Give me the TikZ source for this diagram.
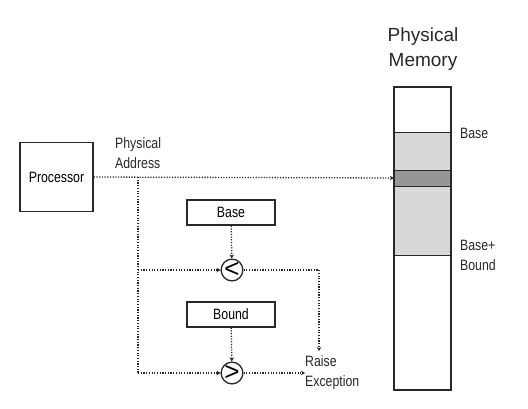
\documentclass[tikz,border=0pt]{standalone}
\usepackage{fontspec}
\setmainfont{Liberation Sans}
\newfontfamily\narrowfont[FakeStretch=0.82]{Liberation Sans}
\usetikzlibrary{arrows.meta, positioning}
\definecolor{regioncolor}{RGB}{216,216,216}
\definecolor{slotcolor}{RGB}{150,150,150}
\definecolor{inkcolor}{RGB}{40,40,40}

\begin{document}
\begin{tikzpicture}[
    x=1pt, y=-1pt,
    regbox/.style={draw=inkcolor, line width=1.3pt, minimum width=88pt, minimum height=25pt, inner sep=0pt, font=\narrowfont\fontsize{15}{17}\selectfont},
    cmpnode/.style={draw=inkcolor, circle, line width=1.3pt, minimum size=20pt, inner sep=0pt, font=\fontsize{26}{26}\selectfont},
    lbl/.style={inner sep=0pt, align=left, font=\narrowfont\fontsize{15}{20}\selectfont, text=inkcolor},
    dotline/.style={draw=inkcolor, line width=1.3pt, dash pattern=on 1.2pt off 1.5pt},
    arrow/.style={dotline, -{Stealth[length=4pt, width=4.5pt]}}
]
    \useasboundingbox (0,0) rectangle (528,408);

    \node[regbox, minimum width=73pt, minimum height=69pt] (proc) at (56.5,177) {Processor};
    \node[lbl, anchor=west] (paddr) at (115,153) {Physical\\Address};

    % physical memory column
    \fill[regioncolor] (394,132) rectangle (451,255);
    \fill[slotcolor] (394,170) rectangle (451,186);
    \draw[inkcolor, line width=0.9pt] (394,132) -- (451,132) (394,170) -- (451,170)
        (394,186) -- (451,186) (394,255) -- (451,255);
    \node[draw=inkcolor, line width=1.3pt, minimum width=57pt, minimum height=303pt, inner sep=0pt] (mem) at (422.5,238.5) {};
    \node[inner sep=0pt, minimum width=57pt, minimum height=16pt] (slot) at (422.5,178) {};
    \node[align=center, font=\fontsize{19}{25}\selectfont, text=inkcolor] (memtitle) at (423,49) {Physical\\Memory};
    \node[lbl, anchor=west] (baselbl) at (460,133) {Base};
    \node[lbl, anchor=west] (boundlbl) at (460,255) {Base+\\Bound};

    \node[regbox] (base) at (231,212.5) {Base};
    \node[cmpnode] (lt) at (232,270) {\raisebox{0.5pt}{<}};
    \node[regbox] (bound) at (231,314.5) {Bound};
    \node[cmpnode] (gt) at (232,373) {\raisebox{0.5pt}{>}};
    \node[lbl, anchor=west] (raise) at (305,373) {Raise\\Exception};

    \coordinate (split) at (138,177);
    \coordinate (corner) at (138,373);
    \coordinate (drop) at (319,351);

    \draw[arrow] (proc.east) -- (slot.west);
    \draw[dotline] (split) -- (corner);
    \draw[arrow] (split |- lt) -- (lt);
    \draw[arrow] (corner) -- (gt);
    \draw[arrow] (base) -- (lt);
    \draw[arrow] (bound) -- (gt);
    \draw[arrow] (lt) -| (drop);
    \draw[arrow] (gt) -- (raise.west);
\end{tikzpicture}
\end{document}
